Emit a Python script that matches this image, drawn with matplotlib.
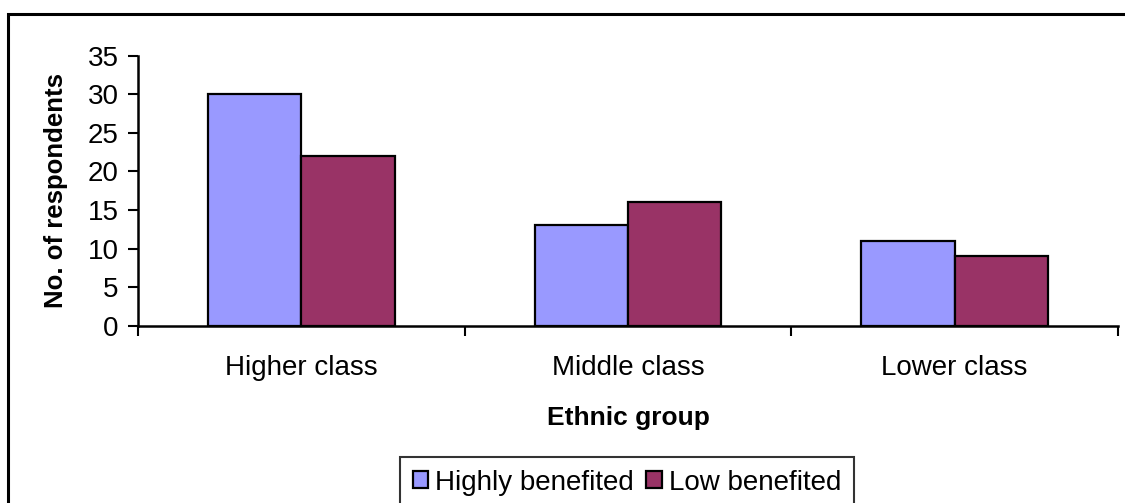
import numpy as np
import matplotlib.pyplot as plt
from matplotlib.patches import Rectangle

plt.rcParams['font.family'] = ['Liberation Sans', 'DejaVu Sans']

categories = ['Higher class', 'Middle class', 'Lower class']
highly = [30, 13, 11]
low = [22, 16, 9]
series_names = ['Highly benefited', 'Low benefited']

W, H = 1125, 503
FS = 20
fig = plt.figure(figsize=(W / 100, H / 100), dpi=100)

# outer chart frame, runs off the right and bottom edges
fig.patches.append(Rectangle((8 / W, 0 - 0.05), 1.2, (H - 14) / H + 0.05,
                             transform=fig.transFigure, fill=False,
                             edgecolor='black', linewidth=2.2, zorder=0))

ax = fig.add_axes([138 / W, (H - 325.7) / H, (1118 - 138) / W, (325.7 - 55.7) / H])

x = np.arange(len(categories))
bw = 1 / 3.5
ax.bar(x - bw / 2, highly, bw, color='#9999ff', edgecolor='black', linewidth=1.6,
       label=series_names[0], zorder=2)
ax.bar(x + bw / 2, low, bw, color='#993366', edgecolor='black', linewidth=1.6,
       label=series_names[1], zorder=2)

ax.set_xlim(-0.5, len(categories) - 0.5)
ax.set_ylim(0, 35)
ax.set_yticks(range(0, 36, 5))
ax.set_xticks(np.arange(-0.5, len(categories), 1))
ax.set_xticklabels([])
ax.set_xticks(x, minor=True)
ax.set_xticklabels(categories, minor=True)
ax.tick_params(axis='x', which='minor', length=0, pad=21, labelsize=FS)
ax.tick_params(axis='x', which='major', length=7, width=1.5, direction='out')
ax.tick_params(axis='y', length=7, width=1.5, direction='out', labelsize=FS, pad=7)

for side in ['top', 'right']:
    ax.spines[side].set_visible(False)
for side in ['left', 'bottom']:
    ax.spines[side].set_linewidth(1.8)

ax.set_ylabel('No. of respondents', fontsize=18.5, fontweight='bold', labelpad=14)
ax.set_xlabel('Ethnic group', fontsize=19, fontweight='bold', labelpad=18)

leg = fig.legend(loc='upper center', bbox_to_anchor=(627 / W, (H - 457) / H),
                 ncol=2, frameon=True, fancybox=False, fontsize=FS,
                 handlelength=0.55, handleheight=0.55, handletextpad=0.25,
                 columnspacing=0.45, borderpad=0.45, borderaxespad=0)
leg.get_frame().set_edgecolor('black')
leg.get_frame().set_linewidth(1.5)

fig.savefig('out.png', dpi=100)
